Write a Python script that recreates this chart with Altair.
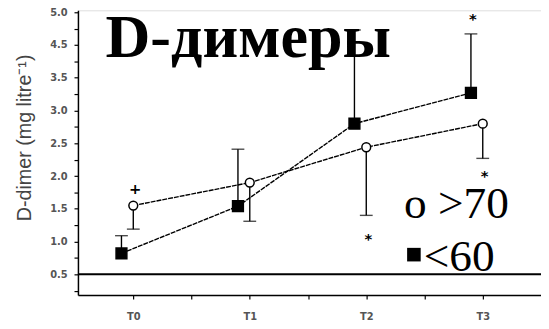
import altair as alt
import pandas as pd

# ---- data ----
times = ["T0", "T1", "T2", "T3"]
over70_mean = [1.55, 1.90, 2.44, 2.80]      # open circles  (o >70)
over70_bar_end = [1.19, 1.31, 1.40, 2.27]   # one-sided error bars
under60_mean = [0.82, 1.54, 2.80, 3.27]     # filled squares (<60)
under60_bar_end = [1.09, 2.41, 4.23, 4.17]

sig_series = [">70", ">70", ">70", "<60"]
sig_time = ["T0", "T2", "T3", "T3"]
sig_value = [1.84, 1.09, 2.05, 4.44]
sig_symbol = ["+", "*", "*", "*"]

ref_line = [0.5]

y_tick_positions = [0.5, 1.0, 1.5, 2.0, 2.5, 3.0, 3.5, 4.0, 4.5]
y_tick_labels = ["0.5", "1.0", "1.5", "2.0", "2.5", "3.0", "3.5", "4.5", "5.0"]
y_minor = [0.25, 0.75, 1.25, 1.75, 2.25, 2.75, 3.25, 3.75, 4.25]
x_minor = [0.5, 1.5, 2.5]

title_text = "D-димеры"
legend_over = "o >70"
legend_under = "<60"
y_title = "D-dimer (mg litre\u207b\u00b9)"

# ---- tables ----
rows = []
for i, t in enumerate(times):
    rows.append({"t": i, "time": t, "series": ">70", "mean": over70_mean[i], "end": over70_bar_end[i]})
    rows.append({"t": i, "time": t, "series": "<60", "mean": under60_mean[i], "end": under60_bar_end[i]})
df = pd.DataFrame(rows)
sig = pd.DataFrame({"t": [times.index(s) for s in sig_time], "series": sig_series,
                    "value": sig_value, "symbol": sig_symbol})

y_label_expr = "".join(f"datum.value == {p} ? '{l}' : " for p, l in zip(y_tick_positions, y_tick_labels)) + "''"
x_label_expr = "".join(f"datum.value == {i} ? '{t}' : " for i, t in enumerate(times)) + "''"

x_enc = alt.X("t:Q", scale=alt.Scale(domain=[-0.475, 3.5], nice=False, zero=False),
              axis=alt.Axis(values=sorted(list(range(len(times))) + x_minor), labelExpr=x_label_expr,
                            grid=False, title=None, domainColor="black", domainWidth=1.5,
                            tickColor="black", tickWidth=1.2, tickSize=4,
                            labelFont="DejaVu Sans", labelFontWeight="bold", labelFontSize=10,
                            labelColor="#555", labelPadding=13))
y_enc_kwargs = dict(scale=alt.Scale(domain=[0.184, 4.53], nice=False, zero=False),
                    axis=alt.Axis(values=sorted(y_tick_positions + y_minor), labelExpr=y_label_expr,
                                  grid=False, title=y_title, domainColor="black", domainWidth=1.5,
                                  tickColor="black", tickWidth=1.2, tickSize=4,
                                  labelFont="DejaVu Sans", labelFontWeight="bold", labelFontSize=10,
                                  labelColor="#555", labelPadding=7,
                                  titleFont="Liberation Sans", titleFontSize=20, titleFontWeight="normal",
                                  titleColor="#444", titleX=-54, titleY=129, titleAngle=270,
                                  titleAlign="center", titleBaseline="middle"))


def Y(field):
    return alt.Y(field, **y_enc_kwargs)


base = alt.Chart(df)
layers = []
layers.append(alt.Chart(pd.DataFrame({"ref": ref_line})).mark_rule(color="black", strokeWidth=2)
              .encode(y=Y("ref:Q")))

for series, off, shape, fill, size in [(">70", 0, "circle", "white", 80), ("<60", -12, "square", "black", 120)]:
    b = base.transform_filter(alt.datum.series == series)
    layers.append(b.mark_line(color="black", strokeWidth=1.4, strokeDash=[5, 1], xOffset=off)
                  .encode(x=x_enc, y=Y("mean:Q")))
    layers.append(b.mark_rule(color="black", strokeWidth=1.4, xOffset=off)
                  .encode(x=x_enc, y=Y("mean:Q"), y2="end:Q"))
    layers.append(b.mark_tick(color="black", orient="horizontal", size=13, thickness=1.4, xOffset=off)
                  .encode(x=x_enc, y=Y("end:Q")))
    layers.append(b.mark_point(shape=shape, filled=True, fill=fill, stroke="black", strokeWidth=1.5,
                               size=size, opacity=1, xOffset=off)
                  .encode(x=x_enc, y=Y("mean:Q")))
    layers.append(alt.Chart(sig).transform_filter(alt.datum.series == series)
                  .mark_text(font="DejaVu Sans", fontSize=15, fontWeight="bold", color="black",
                             baseline="middle", xOffset=off + 2, dy=3)
                  .encode(x=x_enc, y=Y("value:Q"), text="symbol:N"))

# title and in-plot legend annotations
layers.append(alt.Chart(pd.DataFrame({"s": [title_text]})).mark_text(
    font="Liberation Serif", fontSize=63, fontWeight="bold", align="left", baseline="alphabetic",
    color="black").encode(x=alt.value(28), y=alt.value(47), text="s:N"))
layers.append(alt.Chart(pd.DataFrame({"s": [legend_over]})).mark_text(
    font="Liberation Serif", fontSize=46, align="left", baseline="alphabetic",
    color="black").encode(x=alt.value(331), y=alt.value(211), text="s:N"))
layers.append(alt.Chart(pd.DataFrame({"s": [legend_under]})).mark_text(
    font="Liberation Serif", fontSize=46, align="left", baseline="alphabetic",
    color="black").encode(x=alt.value(351), y=alt.value(265), text="s:N"))
layers.append(alt.Chart(pd.DataFrame({"s": ["<60"]})).mark_point(
    shape="square", filled=True, color="black", size=190, opacity=1
).encode(x=alt.value(341), y=alt.value(248)))

chart = alt.layer(*layers).properties(
    width=470, height=289,
    autosize=alt.AutoSizeParams(type="none"),
    padding={"left": 71, "top": 0, "right": 0, "bottom": 24},
).configure_view(stroke=None).configure(background="white")

chart.save("out.html", embed_options={"renderer": "svg", "actions": False})
